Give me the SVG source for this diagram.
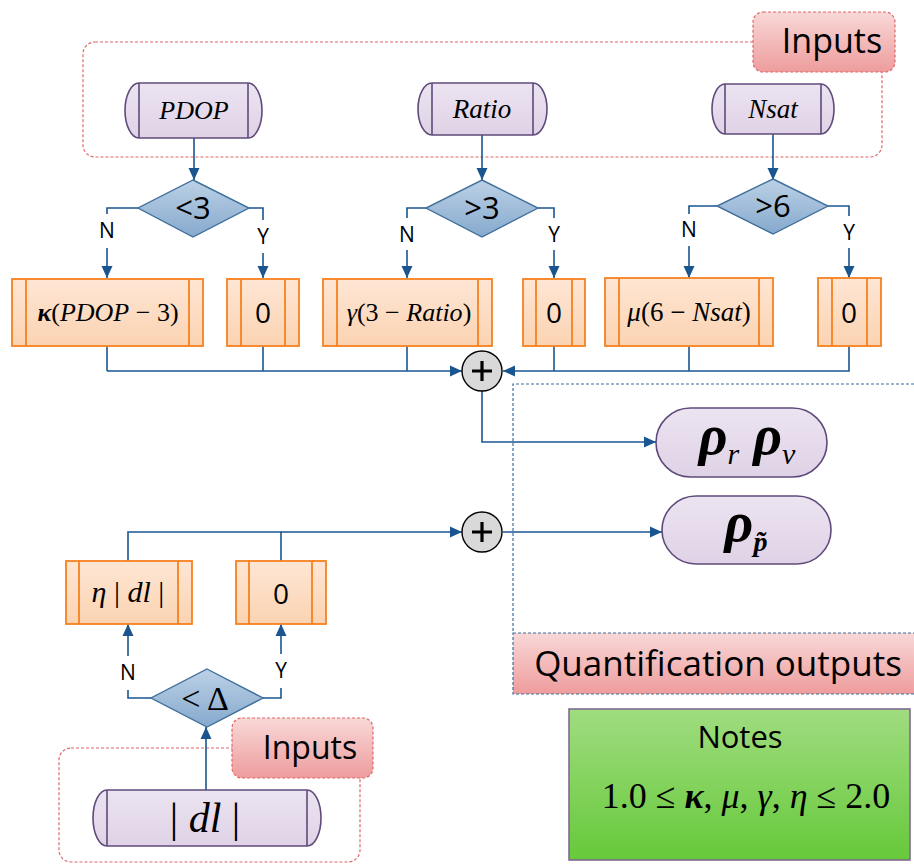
<svg xmlns="http://www.w3.org/2000/svg" width="914" height="864" viewBox="0 0 914 864">
<defs>
<linearGradient id="gPur" x1="0" y1="0" x2="0" y2="1"><stop offset="0" stop-color="#ece4f1"/><stop offset="1" stop-color="#dfd2e6"/></linearGradient>
<linearGradient id="gOr" x1="0" y1="0" x2="0" y2="1"><stop offset="0" stop-color="#fee6d4"/><stop offset="1" stop-color="#fbd3b2"/></linearGradient>
<linearGradient id="gDia" x1="0" y1="0" x2="0" y2="1"><stop offset="0" stop-color="#bcd1e6"/><stop offset="1" stop-color="#86a9cd"/></linearGradient>
<linearGradient id="gRed" x1="0" y1="0" x2="0" y2="1"><stop offset="0" stop-color="#f9d8d8"/><stop offset="1" stop-color="#ee9c9c"/></linearGradient>
<linearGradient id="gGr" x1="0" y1="0" x2="0" y2="1"><stop offset="0" stop-color="#a0dc80"/><stop offset="1" stop-color="#66c93a"/></linearGradient>
<marker id="arr" markerUnits="userSpaceOnUse" markerWidth="12" markerHeight="12" viewBox="0 0 12 12" refX="12" refY="6" orient="auto"><path d="M0,0.5 L12,6 L0,11.5 Z" fill="#1a5590"/></marker>
</defs>
<style>
.inp{fill:url(#gPur);stroke:#5f4b7b;stroke-width:1.6}
.inl{stroke:#5f4b7b;stroke-width:1.6;fill:none}
.box{fill:url(#gOr);stroke:#f7811f;stroke-width:1.8}
.bxl{stroke:#f7811f;stroke-width:1.8;fill:none}
.dia{fill:url(#gDia);stroke:#3f6f9c;stroke-width:1.4}
.con{stroke:#1a5590;stroke-width:1.6;fill:none}
.arr{marker-end:url(#arr)}
.rdash{fill:none;stroke:#e06666;stroke-width:1.2;stroke-dasharray:3,2}
.rlab{fill:url(#gRed);stroke:#e06666;stroke-width:1.2;stroke-dasharray:3,2}
.sans{font-family:"Open Sans","Liberation Sans",sans-serif;fill:#000}
.math{font-family:"Liberation Serif","DejaVu Serif",serif;font-style:italic;fill:#000}
.yn{font-family:"Open Sans","Liberation Sans",sans-serif;font-size:21px;text-anchor:middle}
.zero{font-family:"Open Sans","Liberation Sans",sans-serif;font-size:28px;text-anchor:middle}
.dtx{font-family:"Open Sans","Liberation Sans",sans-serif;font-size:31px;text-anchor:middle}
.out{fill:url(#gPur);stroke:#5f4b7b;stroke-width:1.6}
.plus{fill:#d9d9d9;stroke:#000;stroke-width:1.4}
.pl{stroke:#000;stroke-width:3.2}
</style>

<!-- Input groups (frames) -->
<g id="inputs-top">
<rect class="rdash" x="83" y="42" width="799" height="115" rx="12"/>
<rect class="rlab" x="753" y="12" width="142" height="60" rx="10"/>
<text class="sans" x="832" y="53" font-size="34" text-anchor="middle">Inputs</text>
</g>

<g id="quant-outputs">
<path d="M914,384 H513 V633" fill="none" stroke="#3d6fa0" stroke-width="1.2" stroke-dasharray="3,2"/>
<rect x="513" y="633" width="420" height="61" fill="url(#gRed)" stroke="#3d6fa0" stroke-width="1.2" stroke-dasharray="3,2"/>
<text class="sans" x="718" y="676" font-size="35" text-anchor="middle">Quantification outputs</text>
</g>

<g id="inputs-bottom">
<rect class="rdash" x="59" y="748" width="301" height="114" rx="12"/>
<rect class="rlab" x="232" y="718" width="141" height="60" rx="10"/>
<text class="sans" x="310" y="759" font-size="32" text-anchor="middle">Inputs</text>
</g>

<!-- Connectors -->
<g id="connectors">
<line class="con arr" x1="194" y1="138" x2="194" y2="180"/>
<line class="con arr" x1="482" y1="135" x2="482" y2="180"/>
<line class="con arr" x1="773" y1="134" x2="773" y2="180"/>
<path class="con" d="M138,208 H107 V214"/>
<line class="con arr" x1="107" y1="248" x2="107" y2="278"/>
<path class="con" d="M249,208 H263 V220"/>
<line class="con arr" x1="263" y1="253" x2="263" y2="278"/>
<path class="con" d="M426,208 H407 V218"/>
<line class="con arr" x1="407" y1="250" x2="407" y2="278"/>
<path class="con" d="M538,208 H554 V218"/>
<line class="con arr" x1="554" y1="250" x2="554" y2="278"/>
<path class="con" d="M717,206 H689 V214"/>
<line class="con arr" x1="689" y1="246" x2="689" y2="278"/>
<path class="con" d="M828,206 H849 V216"/>
<line class="con arr" x1="849" y1="248" x2="849" y2="278"/>
<path class="con" d="M107,346 V371"/>
<path class="con" d="M263,346 V371"/>
<path class="con" d="M407,346 V371"/>
<path class="con" d="M554,346 V371"/>
<path class="con" d="M689,346 V371"/>
<path class="con arr" d="M849,346 V371 H503"/>
<path class="con arr" d="M107,371 H462"/>
<path class="con arr" d="M482,391 V442 H656"/>
<line class="con arr" x1="206" y1="790" x2="206" y2="727"/>
<path class="con" d="M151,698 H128 V690"/>
<line class="con arr" x1="128" y1="656" x2="128" y2="624"/>
<path class="con" d="M263,698 H281 V688"/>
<line class="con arr" x1="281" y1="654" x2="281" y2="624"/>
<path class="con" d="M128,561 V532 H281 V561"/>
<path class="con arr" d="M281,532 H462"/>
<line class="con arr" x1="503" y1="532" x2="662" y2="532"/>
</g>

<!-- Inputs -->
<g id="in-pdop">
<path class="inp" d="M139,83 H248 A14,27.5 0 0 1 248,138 H139 A14,27.5 0 0 1 139,83 Z"/>
<path class="inl" d="M139,83 V138 M248,83 V138"/>
<text class="math" x="194" y="119" font-size="26" text-anchor="middle">PDOP</text>
</g>
<g id="in-ratio">
<path class="inp" d="M432,83 H533 A14,26 0 0 1 533,135 H432 A14,26 0 0 1 432,83 Z"/>
<path class="inl" d="M432,83 V135 M533,83 V135"/>
<text class="math" x="482" y="118" font-size="27" text-anchor="middle">Ratio</text>
</g>
<g id="in-nsat">
<path class="inp" d="M725,84 H821 A13,25 0 0 1 821,134 H725 A13,25 0 0 1 725,84 Z"/>
<path class="inl" d="M725,84 V134 M821,84 V134"/>
<text class="math" x="773" y="118" font-size="27" text-anchor="middle">Nsat</text>
</g>

<!-- Decisions -->
<g id="d-pdop">
<polygon class="dia" points="193,180 249,208 193,237 138,208"/>
<text class="dtx" x="193" y="219">&lt;3</text>
</g>
<g id="d-ratio">
<polygon class="dia" points="482,180 538,208 482,237 426,208"/>
<text class="dtx" x="482" y="219">&gt;3</text>
</g>
<g id="d-nsat">
<polygon class="dia" points="773,179 828,206 773,234 717,206"/>
<text class="dtx" x="773" y="217">&gt;6</text>
</g>

<!-- Y/N labels -->
<g id="yn-labels">
<text class="yn" x="107" y="238">N</text>
<text class="yn" x="263" y="244">Y</text>
<text class="yn" x="407" y="242">N</text>
<text class="yn" x="554" y="242">Y</text>
<text class="yn" x="689" y="237">N</text>
<text class="yn" x="849" y="240">Y</text>
<text class="yn" x="128" y="680">N</text>
<text class="yn" x="281" y="678">Y</text>
</g>

<!-- Process boxes -->
<g id="p-kappa">
<rect class="box" x="12" y="279" width="191" height="67"/>
<path class="bxl" d="M26,279 V346 M189,279 V346"/>
<text class="math" x="108" y="321" font-size="26" text-anchor="middle"><tspan font-weight="bold">κ</tspan><tspan font-style="normal">(</tspan>PDOP<tspan font-style="normal"> − 3)</tspan></text>
</g>
<g id="p-zero1">
<rect class="box" x="227" y="279" width="72" height="67"/>
<path class="bxl" d="M241,279 V346 M285,279 V346"/>
<text class="zero" x="263" y="323">0</text>
</g>
<g id="p-gamma">
<rect class="box" x="323" y="279" width="169" height="67"/>
<path class="bxl" d="M337,279 V346 M478,279 V346"/>
<text class="math" x="409" y="321" font-size="26" text-anchor="middle">γ<tspan font-style="normal">(3 − </tspan>Ratio<tspan font-style="normal">)</tspan></text>
</g>
<g id="p-zero2">
<rect class="box" x="523" y="279" width="62" height="67"/>
<path class="bxl" d="M536,279 V346 M572,279 V346"/>
<text class="zero" x="554" y="323">0</text>
</g>
<g id="p-mu">
<rect class="box" x="605" y="278" width="168" height="68"/>
<path class="bxl" d="M619,278 V346 M759,278 V346"/>
<text class="math" x="689" y="321" font-size="27" text-anchor="middle">μ<tspan font-style="normal">(6 − </tspan>Nsat<tspan font-style="normal">)</tspan></text>
</g>
<g id="p-zero3">
<rect class="box" x="818" y="278" width="63" height="68"/>
<path class="bxl" d="M832,278 V346 M867,278 V346"/>
<text class="zero" x="849" y="323">0</text>
</g>

<!-- Sum nodes -->
<g id="sum1">
<circle class="plus" cx="482" cy="371" r="20"/>
<path class="pl" d="M472,371 H492 M482,361 V381"/>
</g>
<g id="sum2">
<circle class="plus" cx="482" cy="532" r="20"/>
<path class="pl" d="M472,532 H492 M482,522 V542"/>
</g>

<!-- Outputs -->
<g id="out-rv">
<rect class="out" x="656" y="408" width="171" height="69" rx="34.5"/>
<text class="math" x="747" y="454" font-size="56" font-weight="bold" text-anchor="middle">ρ<tspan font-size="30" font-weight="normal" dy="10">r</tspan><tspan dy="-10"> ρ</tspan><tspan font-size="30" font-weight="normal" dy="10">v</tspan></text>
</g>
<g id="out-p">
<rect class="out" x="662" y="496" width="169" height="68" rx="34"/>
<text class="math" x="746" y="541" font-size="56" font-weight="bold" text-anchor="middle">ρ<tspan font-size="28" dy="10">p̃</tspan></text>
</g>

<!-- Bottom section -->
<g id="p-eta">
<rect class="box" x="66" y="561" width="126" height="63"/>
<path class="bxl" d="M79,561 V624 M178,561 V624"/>
<text class="math" x="128" y="602" font-size="30" text-anchor="middle">η<tspan font-style="normal"> | </tspan>dl<tspan font-style="normal"> |</tspan></text>
</g>
<g id="p-zero4">
<rect class="box" x="236" y="561" width="90" height="63"/>
<path class="bxl" d="M249,561 V624 M312,561 V624"/>
<text class="zero" x="281" y="604">0</text>
</g>
<g id="d-dl">
<polygon class="dia" points="207,669 263,698 207,727 151,698"/>
<text x="205" y="710" font-family="Liberation Serif,serif" font-size="34" text-anchor="middle">&lt; Δ</text>
</g>
<g id="in-dl">
<path class="inp" d="M107,790 H307 A14,28 0 0 1 307,846 H107 A14,28 0 0 1 107,790 Z"/>
<path class="inl" d="M107,790 V846 M307,790 V846"/>
<text class="math" x="205" y="832" font-size="42" text-anchor="middle"><tspan font-style="normal">| </tspan>dl<tspan font-style="normal"> |</tspan></text>
</g>

<!-- Notes -->
<g id="notes">
<rect x="569" y="709" width="341" height="151" fill="url(#gGr)" stroke="#7f6a8f" stroke-width="1.6"/>
<text class="sans" x="740" y="748" font-size="31" text-anchor="middle">Notes</text>
<text x="746" y="808" font-family="Liberation Serif,serif" font-size="36" text-anchor="middle">1.0 ≤ <tspan font-style="italic" font-weight="bold">κ</tspan>, <tspan font-style="italic">μ</tspan>, <tspan font-style="italic">γ</tspan>, <tspan font-style="italic">η</tspan> ≤ 2.0</text>
</g>
</svg>
